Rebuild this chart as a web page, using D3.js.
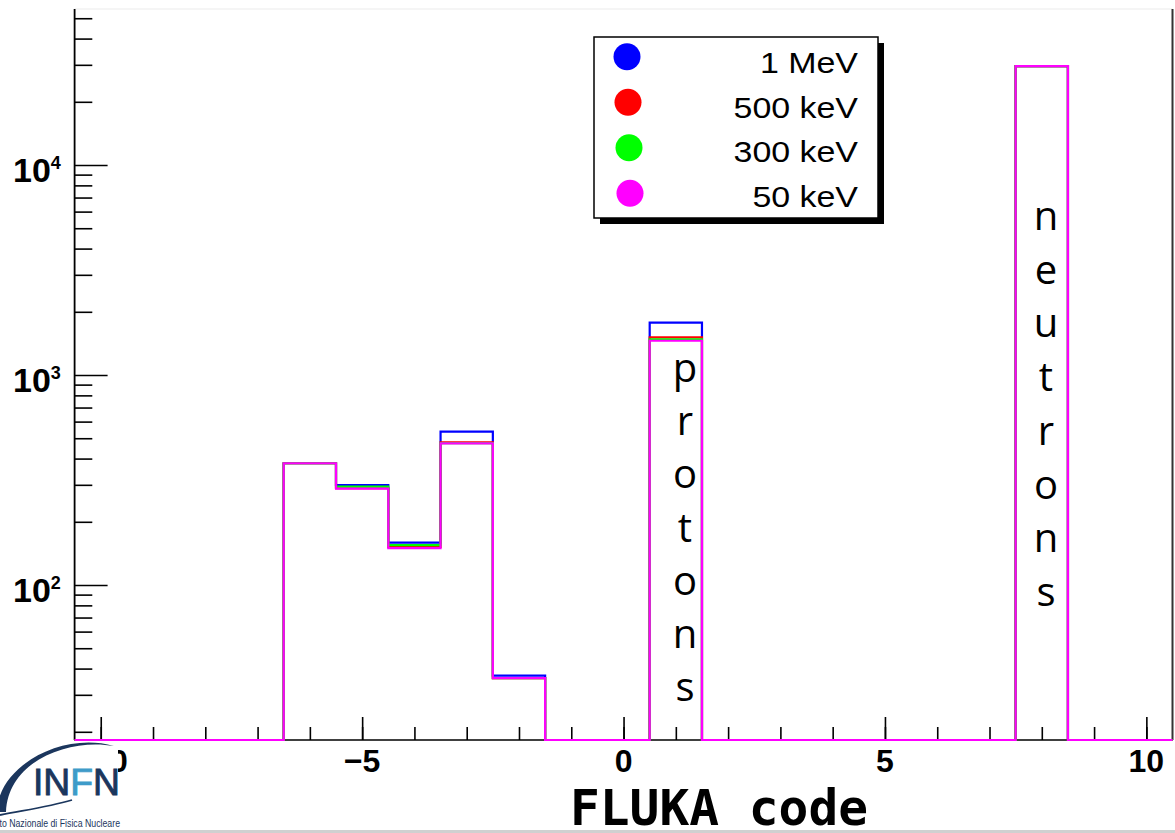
<!DOCTYPE html>
<html>
<head>
<meta charset="utf-8">
<script src="https://cdn.jsdelivr.net/npm/d3@7"></script>
<style>
  html, body { margin: 0; padding: 0; background: #fff; }
  svg { display: block; }
</style>
</head>
<body>
<svg id="chart" width="1175" height="833"></svg>
<script>
// FLUKA particle codes (bin centres, width 1)
const fluka_codes = d3.range(-10, 11);

// Counts per FLUKA code for each primary energy
const counts_1MeV   = [0, 0, 0, 0, 380, 299, 159, 537, 37, 0, 0, 1775, 0, 0, 0, 0, 0, 0, 29600, 0, 0];
const counts_500keV = [0, 0, 0, 0, 380, 289, 152, 478, 36, 0, 0, 1512, 0, 0, 0, 0, 0, 0, 29600, 0, 0];
const counts_300keV = [0, 0, 0, 0, 380, 294, 155, 474, 36, 0, 0, 1479, 0, 0, 0, 0, 0, 0, 29600, 0, 0];
const counts_50keV  = [0, 0, 0, 0, 380, 288, 150, 473, 36, 0, 0, 1456, 0, 0, 0, 0, 0, 0, 29600, 0, 0];

const series_names  = ["1 MeV", "500 keV", "300 keV", "50 keV"];
const series_colors = ["#0000ff", "#ff0000", "#00ff00", "#ff00ff"];
const series_values = [counts_1MeV, counts_500keV, counts_300keV, counts_50keV];

const x_tick_labels = [-10, -5, 0, 5, 10];
const y_major_ticks = [100, 1000, 10000];
const y_tick_exponents = ["2", "3", "4"];

const proton_label = "protons";
const neutron_label = "neutrons";

// ---- layout ----
const W = 1175, H = 833;
const plot = { left: 74.6, right: 1172.5, top: 9, bottom: 740 };
const yMin = 18.28, yMax = 55330;

const svg = d3.select("#chart");
svg.append("rect").attr("width", W).attr("height", H).attr("fill", "#fff");

const x = d3.scaleLinear().domain([-10.5, 10.5]).range([plot.left, plot.right]);
const y = d3.scaleLog().domain([yMin, yMax]).range([plot.bottom, plot.top]);

// frame: faint top edge, dark right edge
svg.append("line")
  .attr("x1", plot.left).attr("x2", plot.right)
  .attr("y1", plot.top).attr("y2", plot.top)
  .attr("stroke", "#ececec").attr("stroke-width", 1.2);
svg.append("line")
  .attr("x1", plot.right).attr("x2", plot.right)
  .attr("y1", plot.top).attr("y2", plot.bottom)
  .attr("stroke", "#333").attr("stroke-width", 2);

// ---- y axis (log) ----
const yMinorTicks = [];
[10, 100, 1000, 10000].forEach(dec => {
  for (let k = 2; k <= 9; k++) {
    const v = dec * k;
    if (v >= yMin && v <= yMax) yMinorTicks.push(v);
  }
});

const yAxisMinor = d3.axisRight(y).tickValues(yMinorTicks).tickSize(17.7).tickFormat("");
const yAxisMajor = d3.axisRight(y).tickValues(y_major_ticks).tickSize(33).tickFormat("");

[yAxisMinor, yAxisMajor].forEach(ax => {
  const g = svg.append("g").attr("transform", `translate(${plot.left},0)`).call(ax);
  g.select(".domain").remove();
  g.selectAll(".tick line").attr("stroke", "#000").attr("stroke-width", 1.6);
});
svg.append("line")
  .attr("x1", plot.left).attr("x2", plot.left)
  .attr("y1", plot.top).attr("y2", plot.bottom)
  .attr("stroke", "#000").attr("stroke-width", 1.8);

// y tick labels: 10^n
y_major_ticks.forEach((v, i) => {
  const t = svg.append("text")
    .attr("x", 13).attr("y", y(v) + 16.5)
    .attr("font-family", "Liberation Sans, Arial, sans-serif")
    .attr("font-weight", "bold")
    .attr("font-size", 34)
    .attr("fill", "#000");
  t.append("tspan").text("10");
  t.append("tspan").attr("dy", -13).attr("font-size", 18).text(y_tick_exponents[i]);
});

// ---- x axis ----
const xAxisMinor = d3.axisTop(x).tickValues(fluka_codes).tickSize(13).tickFormat("");
const xAxisMajor = d3.axisTop(x).tickValues(x_tick_labels).tickSize(23).tickFormat("");
[xAxisMinor, xAxisMajor].forEach(ax => {
  const g = svg.append("g").attr("transform", `translate(0,${plot.bottom})`).call(ax);
  g.select(".domain").remove();
  g.selectAll(".tick line").attr("stroke", "#000").attr("stroke-width", 1.6);
});
svg.append("line")
  .attr("x1", plot.left).attr("x2", plot.right)
  .attr("y1", plot.bottom).attr("y2", plot.bottom)
  .attr("stroke", "#000").attr("stroke-width", 1.6);

svg.append("g").selectAll("text")
  .data(x_tick_labels)
  .join("text")
  .attr("x", d => x(d))
  .attr("y", 772)
  .attr("text-anchor", "middle")
  .attr("font-family", "Liberation Sans, Arial, sans-serif")
  .attr("font-weight", "bold")
  .attr("font-size", 32)
  .attr("fill", "#000")
  .text(d => d < 0 ? "\u2212" + Math.abs(d) : String(d));

// x axis title
svg.append("text")
  .attr("x", 570).attr("y", 825)
  .attr("font-family", "DejaVu Sans Mono, monospace")
  .attr("font-weight", "bold")
  .attr("font-size", 50)
  .attr("textLength", 298)
  .attr("lengthAdjust", "spacingAndGlyphs")
  .attr("fill", "#000")
  .text("FLUKA code");

// ---- histograms (step outlines) ----
const stepLine = d3.line()
  .x(d => x(d[0]))
  .y(d => y(Math.max(d[1], yMin)));

series_values.forEach((vals, si) => {
  const pts = [];
  fluka_codes.forEach((c, i) => {
    pts.push([c - 0.5, vals[i]]);
    pts.push([c + 0.5, vals[i]]);
  });
  svg.append("path")
    .attr("d", stepLine(pts))
    .attr("fill", "none")
    .attr("stroke", series_colors[si])
    .attr("stroke-width", 2.2)
    .attr("stroke-linejoin", "miter");
});

// ---- vertical particle labels ----
function verticalLabel(str, cx, firstBaseline, step) {
  svg.append("g").selectAll("text")
    .data(str.split(""))
    .join("text")
    .attr("x", cx)
    .attr("y", (d, i) => firstBaseline + i * step)
    .attr("text-anchor", "middle")
    .attr("font-family", "Open Sans, Noto Sans, sans-serif")
    .attr("font-size", 40)
    .attr("fill", "#000")
    .text(d => d);
}
verticalLabel(proton_label, 685, 382, 53.2);
verticalLabel(neutron_label, 1046, 230, 53.7);

// ---- legend ----
const lg = { x: 594, y: 37, w: 284, h: 181 };
svg.append("rect")
  .attr("x", lg.x + 6).attr("y", lg.y + 6)
  .attr("width", lg.w).attr("height", lg.h)
  .attr("fill", "#000");
svg.append("rect")
  .attr("x", lg.x).attr("y", lg.y)
  .attr("width", lg.w).attr("height", lg.h)
  .attr("fill", "#fff").attr("stroke", "#000").attr("stroke-width", 1.5);

series_names.forEach((name, i) => {
  svg.append("circle")
    .attr("cx", 627 + i)
    .attr("cy", 56.7 + i * 45.5)
    .attr("r", 13.5)
    .attr("fill", series_colors[i]);
  svg.append("text")
    .attr("transform", `translate(858,${73.3 + i * 44.5}) scale(1.17,1)`)
    .attr("text-anchor", "end")
    .attr("font-family", "Liberation Sans, Arial, sans-serif")
    .attr("font-size", 29)
    .attr("fill", "#000")
    .text(name);
});

// ---- INFN logo ----
const logo = svg.append("g");
logo.append("rect").attr("x", 0).attr("y", 741).attr("width", 118).attr("height", 89).attr("fill", "#fff");
logo.append("path")
  .attr("d", "M -3,812 C -3,768 60,731 114,746 C 70,738 8,760 6,812 Z")
  .attr("fill", "#1b365d");
logo.append("path")
  .attr("d", "M 0,815 C 25,810 48,807 72,800")
  .attr("fill", "none").attr("stroke", "#1b365d").attr("stroke-width", 1.8);
const infn = logo.append("text")
  .attr("x", 33).attr("y", 795)
  .attr("font-family", "Liberation Sans, Arial, sans-serif")
  .attr("font-size", 37)
  .attr("textLength", 87)
  .attr("lengthAdjust", "spacingAndGlyphs")
  .attr("fill", "#1b365d")
  .attr("stroke", "#1b365d")
  .attr("stroke-width", 0.9);
infn.append("tspan").text("IN");
infn.append("tspan").attr("fill", "#3e9bc9").attr("stroke", "#3e9bc9").text("F");
infn.append("tspan").text("N");
logo.append("text")
  .attr("x", -19).attr("y", 827)
  .attr("font-family", "Liberation Sans Narrow, Liberation Sans, Arial, sans-serif")
  .attr("font-size", 11)
  .attr("textLength", 139)
  .attr("lengthAdjust", "spacingAndGlyphs")
  .attr("fill", "#1b365d")
  .text("Istituto Nazionale di Fisica Nucleare");

// slide edge at the bottom
svg.append("rect").attr("x", 0).attr("y", 830).attr("width", W).attr("height", 3).attr("fill", "#d0d0d0");
</script>
</body>
</html>
